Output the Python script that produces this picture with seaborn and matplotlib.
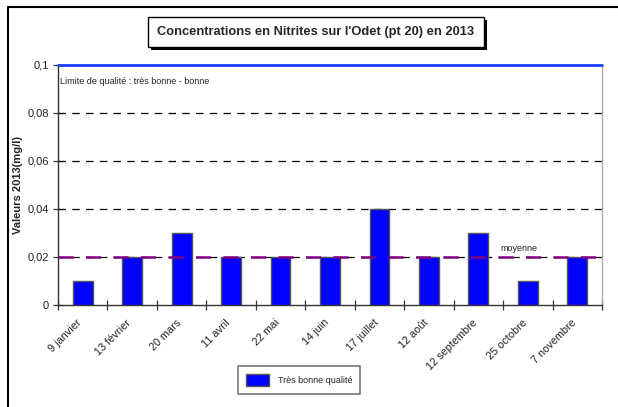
import matplotlib
matplotlib.use("Agg")
import matplotlib.pyplot as plt
import matplotlib.transforms as mtransforms
import seaborn as sns
import pandas as pd
from matplotlib.patches import Rectangle
from matplotlib.lines import Line2D

# Sampling dates and nitrite concentrations (mg/l)
dates = ["9 janvier", "13 février", "20 mars", "11 avril", "22 mai", "14 juin",
         "17 juillet", "12 août", "12 septembre", "25 octobre", "7 novembre"]
values = [0.01, 0.02, 0.03, 0.02, 0.02, 0.02, 0.04, 0.02, 0.03, 0.01, 0.02]
mean_value = 0.02
quality_limit = 0.1
y_ticks = [0, 0.02, 0.04, 0.06, 0.08, 0.1]
y_tick_labels = ["0", "0,02", "0,04", "0,06", "0,08", "0,1"]

sns.set_theme(style="white")
plt.rcParams["font.family"] = ["Liberation Sans", "DejaVu Sans"]

W, H = 618, 407
fig = plt.figure(figsize=(W / 100, H / 100), dpi=100)
ax = fig.add_axes([58 / W, 1 - 305 / H, (602 - 58) / W, (305 - 65) / H])

df = pd.DataFrame({"date": dates, "valeur": values, "classe": "Très bonne qualité"})
sns.barplot(data=df, x="date", y="valeur", hue="classe", ax=ax, width=0.4,
            palette=["#0000FF"], edgecolor="#555555", linewidth=1.0,
            saturation=1, legend=True, zorder=3)

ax.set_xlim(-0.5, len(dates) - 0.5)
ax.set_ylim(0, quality_limit)

# dashed horizontal gridlines
for yv in y_ticks[1:-1]:
    ax.axhline(yv, color="black", linestyle=(0, (6, 5)), linewidth=0.9, zorder=1)

# mean and quality limit
ax.axhline(mean_value, color="#800080", linestyle=(0, (6, 5)), linewidth=1.8, zorder=4)
ax.axhline(quality_limit, color="#1f3fff", linewidth=2.0, zorder=5, clip_on=False)
ax.text(0.003, 0.093, "Limite de qualité : très bonne - bonne", fontsize=6.5,
        color="#222222", transform=ax.get_yaxis_transform(),
        ha="left", va="center")
ax.text(8.44, 0.0215, "moyenne", fontsize=6.5, color="#222222", ha="left", va="bottom")

# axes styling
ax.spines["top"].set_visible(False)
ax.spines["left"].set_color("#333333")
ax.spines["bottom"].set_color("#333333")
ax.spines["right"].set_color("#aaaaaa")
for s in ax.spines.values():
    s.set_linewidth(1.0)

ax.set_yticks(y_ticks, y_tick_labels)
ax.tick_params(axis="y", direction="inout", length=7, width=0.9, labelsize=8,
               left=True, colors="#333333", labelcolor="#222222", pad=3)

ax.set_xticks(range(len(dates)), dates, rotation=45, ha="right", rotation_mode="anchor")
ax.tick_params(axis="x", which="major", length=0, labelsize=7.8, pad=9, labelcolor="#222222")
ax.set_xticks([i - 0.5 for i in range(len(dates) + 1)], minor=True)
ax.tick_params(axis="x", which="minor", direction="inout", length=7, width=0.9,
               bottom=True, color="#333333")
shift = mtransforms.ScaledTranslation(-6 / 100, 0, fig.dpi_scale_trans)
for lbl in ax.get_xticklabels():
    lbl.set_transform(lbl.get_transform() + shift)

ax.set_xlabel("")
ax.set_ylabel("Valeurs 2013(mg/l)", fontsize=8, fontweight="bold")
ax.yaxis.set_label_coords((23 - 58) / (602 - 58), 0.5)

# legend at bottom
leg = ax.legend(loc="center", bbox_to_anchor=(299 / W, 1 - 380 / H),
                bbox_transform=fig.transFigure, frameon=True, fancybox=False,
                fontsize=6.5, handlelength=2.6, handleheight=1.8,
                borderpad=0.8, handletextpad=1.0, borderaxespad=0)
leg.get_frame().set_edgecolor("#555555")
leg.get_frame().set_linewidth(1.2)
for t in leg.get_texts():
    t.set_color("#222222")

# title box with shadow
tx0, tx1, ty0, ty1 = 148, 484, 17, 47
fig.patches.append(Rectangle(((tx0 + 3) / W, 1 - (ty1 + 3) / H), (tx1 - tx0) / W,
                             (ty1 - ty0) / H, transform=fig.transFigure,
                             facecolor="black", edgecolor="none", zorder=1))
fig.patches.append(Rectangle((tx0 / W, 1 - ty1 / H), (tx1 - tx0) / W,
                             (ty1 - ty0) / H, transform=fig.transFigure,
                             facecolor="white", edgecolor="black", linewidth=1.0, zorder=2))
fig.text((tx0 + tx1) / 2 / W, 1 - (ty0 + ty1) / 2 / H,
         "Concentrations en Nitrites sur l'Odet (pt 20) en 2013",
         ha="center", va="center", fontsize=9.3, fontweight="bold", zorder=3)

# frame lines of the figure
fig.lines.append(Line2D([8 / W, 1], [1 - 7 / H, 1 - 7 / H], transform=fig.transFigure,
                        color="black", linewidth=1.5))
fig.lines.append(Line2D([8 / W, 8 / W], [1 - 7 / H, 0], transform=fig.transFigure,
                        color="black", linewidth=1.5))

fig.savefig("out.png", dpi=100)
